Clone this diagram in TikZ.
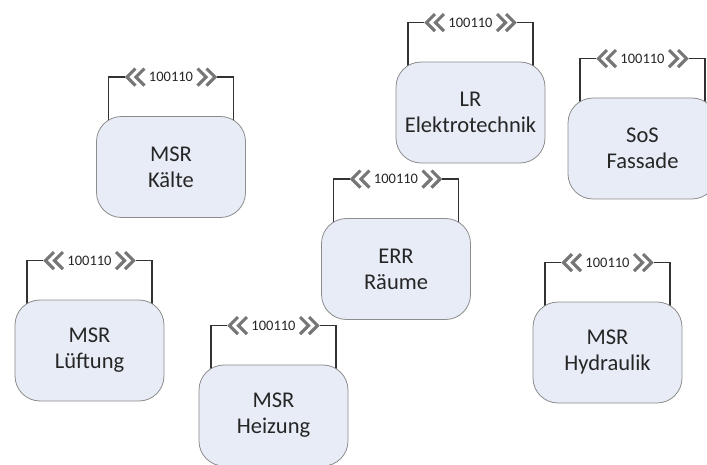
\documentclass[tikz,border=0pt]{standalone}
\usepackage{fontspec}
\setmainfont{Carlito}
\usetikzlibrary{backgrounds}
\definecolor{boxfill}{RGB}{231,236,246}
\definecolor{boxline}{RGB}{140,140,140}
\definecolor{chevgray}{RGB}{118,118,118}
\definecolor{wirecol}{RGB}{50,50,50}
\tikzset{
  unit/.style={draw=boxline, line width=0.8pt, fill=boxfill, rounded corners=25pt,
    minimum width=149pt, minimum height=101pt, inner sep=0pt, align=center,
    font=\fontsize{22.5}{26}\selectfont, text=black!85},
  buslabel/.style={fill=white, inner xsep=24pt, inner ysep=1pt, outer sep=0pt,
    font=\fontsize{14.5}{16}\selectfont, text=black!85},
  chev/.style={draw=chevgray, line width=3.1pt, line cap=butt, line join=miter},
  wire/.style={draw=wirecol, line width=1.4pt},
}
% bus loop with the 100110 label above a unit
\newcommand\busloop[1]{%
  \node[buslabel] (#1-bus) at ([yshift=39pt]#1.north) {100110};
  \foreach \dx in {0,9}{
    \draw[chev] ([xshift=\dx pt+10.5pt, yshift=8.5pt]#1-bus.west) -- ([xshift=\dx pt+2pt]#1-bus.west)
      -- ([xshift=\dx pt+10.5pt, yshift=-8.5pt]#1-bus.west);
    \draw[chev] ([xshift=-\dx pt-10.5pt, yshift=8.5pt]#1-bus.east) -- ([xshift=-\dx pt-2pt]#1-bus.east)
      -- ([xshift=-\dx pt-10.5pt, yshift=-8.5pt]#1-bus.east);
  }
  \begin{scope}[on background layer]
    \draw[wire] ([xshift=-62.5pt, yshift=-15pt]#1.north) |- (#1-bus.west);
    \draw[wire] (#1-bus.east) -| ([xshift=62.5pt, yshift=-15pt]#1.north);
  \end{scope}
}
\begin{document}
\begin{tikzpicture}[x=1pt, y=-1pt]
  \useasboundingbox (0,0) rectangle (707,465);
  \node[unit] (kaelte)   at (171,167)   {MSR\\Kälte};
  \node[unit] (lr)       at (470.5,112.5) {LR\\Elektrotechnik};
  \node[unit] (sos)      at (642.5,148.5) {SoS\\Fassade};
  \node[unit] (err)      at (396,269)   {ERR\\Räume};
  \node[unit] (lueftung) at (89.5,350.5) {MSR\\Lüftung};
  \node[unit] (heizung)  at (273.5,415.5) {MSR\\Heizung};
  \node[unit] (hydraulik) at (607.5,352.5) {MSR\\Hydraulik};
  \busloop{kaelte}
  \busloop{lr}
  \busloop{sos}
  \busloop{err}
  \busloop{lueftung}
  \busloop{heizung}
  \busloop{hydraulik}
\end{tikzpicture}
\end{document}
